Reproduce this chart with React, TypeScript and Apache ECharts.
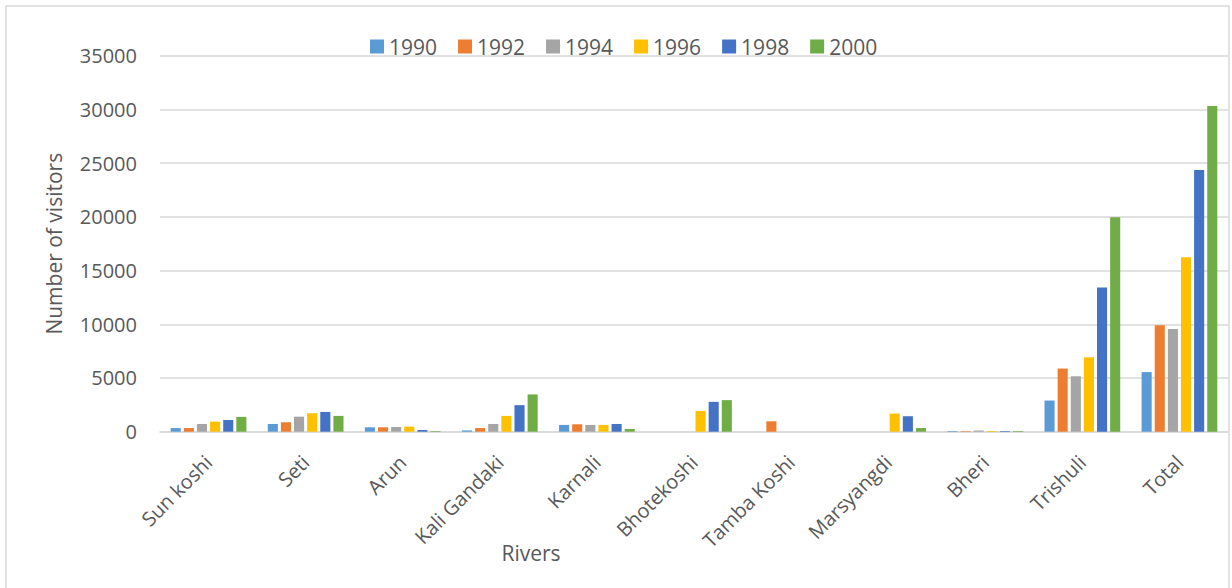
import React, { useEffect, useRef } from "react";
import * as echarts from "echarts";

// River names along the category axis
const rivers = [
  "Sun koshi",
  "Seti",
  "Arun",
  "Kali Gandaki",
  "Karnali",
  "Bhotekoshi",
  "Tamba Koshi",
  "Marsyangdi",
  "Bheri",
  "Trishuli",
  "Total",
];

// Survey years (one bar series each)
const years = ["1990", "1992", "1994", "1996", "1998", "2000"];

// Number of visitors per river, per year
const visitors1990 = [340, 720, 410, 120, 630, 0, 0, 0, 60, 2900, 5550];
const visitors1992 = [340, 880, 410, 340, 690, 0, 970, 0, 50, 5880, 9920];
const visitors1994 = [720, 1400, 440, 720, 630, 0, 0, 0, 110, 5160, 9550];
const visitors1996 = [940, 1720, 470, 1470, 630, 1940, 0, 1690, 60, 6930, 16230];
const visitors1998 = [1090, 1840, 160, 2470, 720, 2780, 0, 1440, 60, 13430, 24350];
const visitors2000 = [1380, 1470, 60, 3470, 250, 2940, 0, 340, 60, 19960, 30320];

const seriesValues = [
  visitors1990,
  visitors1992,
  visitors1994,
  visitors1996,
  visitors1998,
  visitors2000,
];

// Y axis range
const yMin = 0;
const yMax = 35000;
const yStep = 5000;

const palette = ["#5B9BD5", "#ED7D31", "#A5A5A5", "#FFC000", "#4472C4", "#70AD47"];
const FONT = "'Open Sans', 'Noto Sans', sans-serif";
const TEXT = "#595959";

export default function App() {
  const ref = useRef<HTMLDivElement>(null);

  useEffect(() => {
    document.body.style.margin = "0";
    if (!ref.current) return;
    const chart = echarts.init(ref.current, undefined, { renderer: "svg" });

    chart.setOption({
      animation: false,
      backgroundColor: "#ffffff",
      color: palette,
      textStyle: { fontFamily: FONT },
      legend: {
        data: years,
        left: 365,
        top: 31,
        itemWidth: 14,
        itemHeight: 14,
        itemGap: 21,
        icon: "rect",
        textStyle: { fontFamily: FONT, fontSize: 21, color: TEXT },
      },
      grid: {
        left: 160,
        right: 4,
        top: 55.7,
        bottom: 156.3,
        containLabel: false,
      },
      xAxis: {
        type: "category",
        data: rivers,
        axisLine: { show: true, lineStyle: { color: "#d9d9d9", width: 1.5 } },
        axisTick: { show: false },
        axisLabel: {
          rotate: 45,
          interval: 0,
          margin: 27,
          fontFamily: FONT,
          fontSize: 20,
          color: TEXT,
        },
      },
      yAxis: {
        type: "value",
        min: yMin,
        max: yMax,
        interval: yStep,
        name: "Number of visitors",
        nameLocation: "middle",
        nameRotate: 90,
        nameGap: 96,
        nameTextStyle: { fontFamily: FONT, fontSize: 21, color: TEXT },
        axisLine: { show: false },
        axisTick: { show: false },
        axisLabel: {
          margin: 23,
          fontFamily: FONT,
          fontSize: 20,
          color: TEXT,
          formatter: (v: number) => String(v),
        },
        splitLine: { lineStyle: { color: "#d9d9d9", width: 1.5 } },
      },
      series: years.map((y, i) => ({
        name: y,
        type: "bar",
        data: seriesValues[i],
        barGap: "30%",
        barCategoryGap: "22%",
        itemStyle: { color: palette[i] },
      })),
      graphic: [
        {
          type: "rect",
          shape: { x: 6, y: 6, width: 1223, height: 590 },
          style: { fill: "none", stroke: "#d9d9d9", lineWidth: 1.5 },
          silent: true,
          z: -1,
        },
        {
          type: "text",
          x: 531,
          y: 553,
          style: {
            text: "Rivers",
            fontFamily: FONT,
            fontSize: 21,
            fill: TEXT,
            textAlign: "center",
            textVerticalAlign: "middle",
          },
        },
      ],
    });

    return () => chart.dispose();
  }, []);

  return <div ref={ref} style={{ width: 1232, height: 588 }} />;
}
